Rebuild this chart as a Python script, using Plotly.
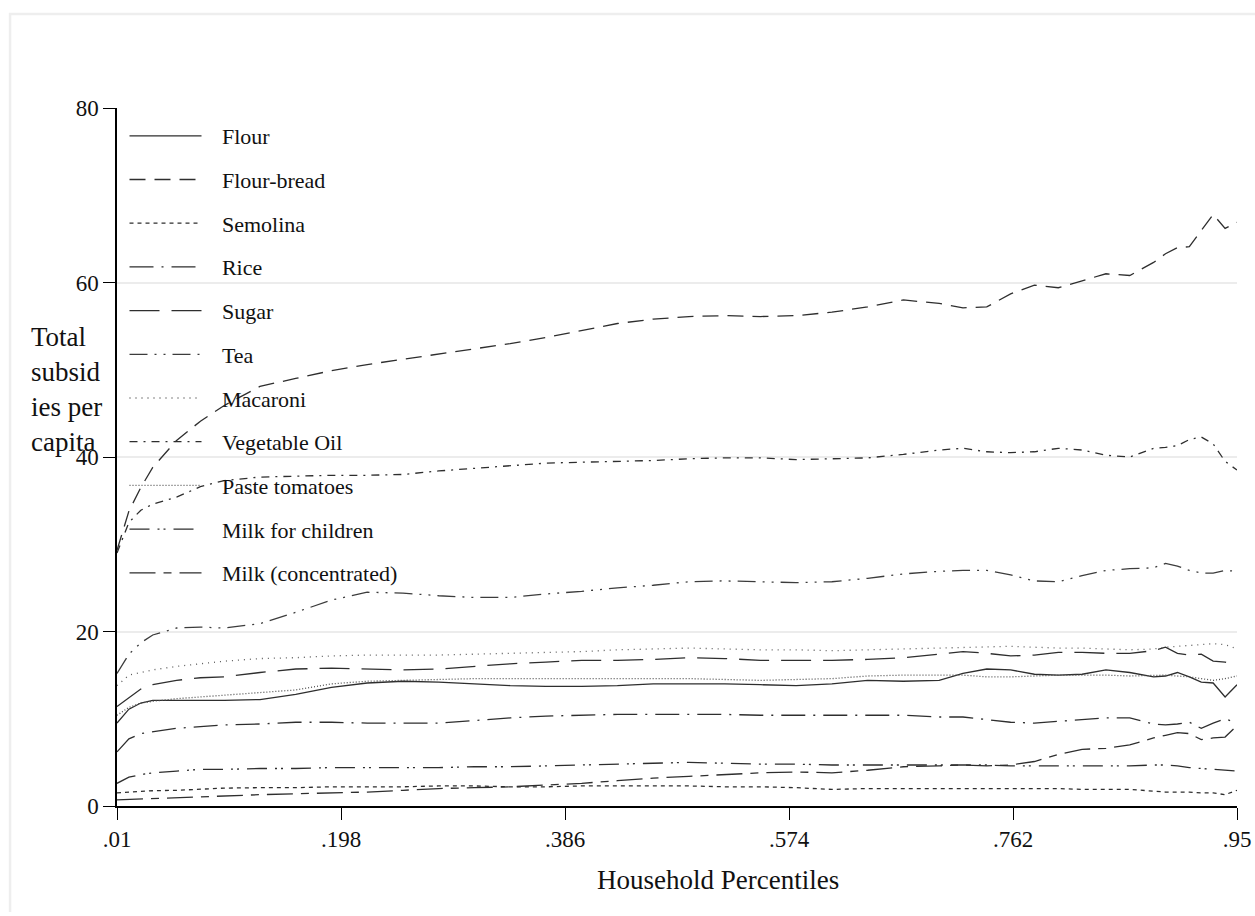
import plotly.graph_objects as go

# Household percentile positions (shared x grid)
percentiles = [.01, .02, .03, .04, .06, .08, .10, .13, .16, .19, .22, .25, .28, .31, .34,
               .37, .40, .43, .46, .49, .52, .55, .58, .61, .64, .67, .70, .72, .74, .76,
               .78, .80, .82, .84, .86, .88, .89, .90, .91, .92, .93, .94, .95]

flour = [9.5, 11.1, 11.8, 12.1, 12.1, 12.1, 12.1, 12.2, 12.8, 13.6, 14.1, 14.3, 14.2, 14.0, 13.8,
         13.7, 13.7, 13.8, 14.0, 14.0, 14.0, 13.9, 13.8, 14.0, 14.4, 14.3, 14.4, 15.2, 15.7, 15.6,
         15.1, 15.0, 15.1, 15.6, 15.3, 14.8, 14.9, 15.3, 14.8, 14.2, 14.1, 12.5, 13.9]
flour_bread = [29.3, 33.8, 36.5, 38.8, 41.9, 44.1, 45.9, 48.1, 49.0, 49.9, 50.6, 51.2, 51.8, 52.4, 53.0,
               53.7, 54.5, 55.3, 55.8, 56.1, 56.2, 56.1, 56.2, 56.6, 57.2, 58.0, 57.6, 57.1, 57.2, 58.7,
               59.7, 59.4, 60.2, 61.0, 60.8, 62.3, 63.3, 64.0, 64.1, 66.0, 67.8, 66.2, 66.9]
semolina = [1.5, 1.6, 1.7, 1.75, 1.8, 1.95, 2.05, 2.1, 2.1, 2.2, 2.2, 2.2, 2.3, 2.3, 2.2,
            2.2, 2.3, 2.3, 2.3, 2.3, 2.2, 2.2, 2.1, 1.9, 2.0, 2.0, 2.0, 2.0, 2.0, 2.0,
            2.0, 2.0, 1.9, 1.9, 1.9, 1.7, 1.6, 1.6, 1.6, 1.5, 1.5, 1.3, 1.8]
rice = [6.2, 7.7, 8.3, 8.5, 8.9, 9.1, 9.3, 9.4, 9.6, 9.6, 9.5, 9.5, 9.5, 9.8, 10.1,
        10.3, 10.4, 10.5, 10.5, 10.5, 10.5, 10.4, 10.4, 10.4, 10.4, 10.4, 10.2, 10.2, 9.9, 9.6,
        9.5, 9.7, 9.9, 10.1, 10.1, 9.4, 9.3, 9.4, 9.6, 8.9, 9.5, 10.0, 9.5]
sugar = [11.4, 12.4, 13.4, 13.9, 14.4, 14.7, 14.8, 15.3, 15.7, 15.8, 15.7, 15.6, 15.7, 16.0, 16.3,
         16.5, 16.7, 16.7, 16.8, 17.0, 16.9, 16.7, 16.7, 16.7, 16.8, 17.0, 17.4, 17.7, 17.5, 17.2,
         17.3, 17.6, 17.6, 17.5, 17.5, 17.8, 18.2, 17.5, 17.3, 17.4, 16.6, 16.5, 16.0]
tea = [15.2, 17.4, 18.7, 19.6, 20.4, 20.5, 20.4, 20.9, 22.2, 23.6, 24.5, 24.4, 24.1, 23.9, 23.9,
       24.3, 24.6, 25.0, 25.3, 25.7, 25.8, 25.7, 25.6, 25.7, 26.1, 26.6, 26.9, 27.0, 27.0, 26.5,
       25.8, 25.7, 26.4, 27.0, 27.2, 27.3, 27.8, 27.5, 27.0, 26.7, 26.7, 27.0, 26.9]
macaroni = [13.8, 15.0, 15.3, 15.6, 16.0, 16.3, 16.6, 16.9, 17.0, 17.2, 17.3, 17.3, 17.3, 17.4, 17.5,
            17.6, 17.7, 17.9, 18.0, 18.1, 18.0, 17.9, 17.9, 17.8, 17.9, 18.0, 18.1, 18.1, 18.2, 18.3,
            18.2, 18.1, 18.1, 18.0, 17.9, 18.0, 18.2, 18.3, 18.4, 18.5, 18.6, 18.5, 18.0]
vegetable_oil = [29.0, 32.5, 33.9, 34.6, 35.4, 36.6, 37.3, 37.7, 37.8, 37.9, 37.9, 38.0, 38.4, 38.7, 39.0,
                 39.3, 39.4, 39.5, 39.6, 39.8, 39.9, 39.9, 39.7, 39.8, 39.9, 40.3, 40.8, 41.0, 40.6, 40.5,
                 40.6, 41.0, 40.8, 40.2, 40.0, 41.0, 41.1, 41.3, 42.0, 42.3, 41.5, 39.5, 38.5]
paste_tomatoes = [10.4, 11.3, 11.8, 12.0, 12.3, 12.5, 12.7, 13.0, 13.3, 14.0, 14.3, 14.4, 14.5, 14.6, 14.6,
                  14.6, 14.6, 14.6, 14.6, 14.6, 14.5, 14.4, 14.5, 14.6, 14.9, 15.0, 15.0, 15.0, 14.8, 14.8,
                  14.9, 15.0, 15.0, 15.0, 14.9, 15.0, 15.0, 14.9, 14.8, 14.6, 14.4, 14.6, 14.9]
milk_children = [2.6, 3.3, 3.6, 3.8, 4.0, 4.2, 4.2, 4.3, 4.3, 4.4, 4.4, 4.4, 4.4, 4.5, 4.5,
                 4.6, 4.7, 4.8, 4.9, 5.0, 4.9, 4.8, 4.8, 4.7, 4.7, 4.7, 4.7, 4.7, 4.7, 4.6,
                 4.6, 4.6, 4.6, 4.6, 4.6, 4.7, 4.7, 4.6, 4.4, 4.3, 4.2, 4.1, 4.0]
milk_concentrated = [0.7, 0.75, 0.8, 0.85, 1.0, 1.1, 1.2, 1.3, 1.4, 1.5, 1.6, 1.8, 2.0, 2.1, 2.2,
                     2.4, 2.6, 2.9, 3.2, 3.4, 3.6, 3.8, 3.9, 3.8, 4.1, 4.5, 4.6, 4.7, 4.6, 4.7,
                     5.1, 5.9, 6.5, 6.6, 7.0, 7.8, 8.1, 8.4, 8.3, 7.6, 7.8, 7.9, 9.2]

series_names = ["Flour", "Flour-bread", "Semolina", "Rice", "Sugar", "Tea", "Macaroni",
                "Vegetable Oil", "Paste tomatoes", "Milk for children", "Milk (concentrated)"]
series_values = [flour, flour_bread, semolina, rice, sugar, tea, macaroni,
                 vegetable_oil, paste_tomatoes, milk_children, milk_concentrated]

x_ticks = [.01, .198, .386, .574, .762, .95]
x_tick_labels = [".01", ".198", ".386", ".574", ".762", ".95"]
y_ticks = [0, 20, 40, 60, 80]

dash_styles = ["solid", "16px,9px", "4px,4px", "24px,8px,2px,8px", "30px,12px",
               "18px,7px,2px,7px,2px,7px", "1px,5px", "8px,6px,2px,6px", "1px,2px",
               "20px,8px,2px,4px,2px,8px", "26px,8px,8px,8px"]
line_colors = ["#2e2e2e", "#2e2e2e", "#2e2e2e", "#2e2e2e", "#2e2e2e", "#3c3c3c",
               "#5a5a5a", "#2e2e2e", "#505050", "#2e2e2e", "#2e2e2e"]

FONT = "Liberation Serif"
PAD = "\u00a0\u00a0\u2009"

fig = go.Figure()
for i, (name, vals) in enumerate(zip(series_names, series_values)):
    fig.add_trace(go.Scatter(
        x=percentiles, y=vals, mode="lines", name=PAD + name, legendgroup=name,
        line=dict(color=line_colors[i], width=1.3, dash=dash_styles[i]),
    ))

fig.update_layout(
    width=1255, height=912,
    margin=dict(l=117, r=18, t=108, b=106, autoexpand=False),
    paper_bgcolor="white", plot_bgcolor="white",
    font=dict(family=FONT, size=22, color="#111111"),
    showlegend=True,
    legend=dict(x=0.0067, y=0.99, xanchor="left", yanchor="top",
                bgcolor="rgba(0,0,0,0)", borderwidth=0,
                font=dict(family=FONT, size=22, color="#111111"),
                itemwidth=72, tracegroupgap=12.1),
    xaxis=dict(range=[0.01, 0.95], tickmode="array", tickvals=x_ticks, ticktext=x_tick_labels,
               automargin=False, ticklabeloverflow="allow",
               showgrid=False, zeroline=False, showline=True, linecolor="black", linewidth=1.5,
               ticks="outside", ticklen=12, tickcolor="black", tickwidth=1,
               tickfont=dict(family=FONT, size=23, color="#111111")),
    yaxis=dict(range=[0, 80], tickmode="array", tickvals=y_ticks, automargin=False,
               showgrid=True, gridcolor="#ececec", gridwidth=1.5, zeroline=False,
               showline=True, linecolor="black", linewidth=1.5,
               ticks="outside", ticklen=12, tickcolor="black", tickwidth=1,
               tickfont=dict(family=FONT, size=23, color="#111111")),
    annotations=[
        dict(text="Total<br>subsid<br>ies per<br>capita", xref="paper", yref="paper",
             x=-0.0786, y=0.596, xanchor="left", yanchor="middle", align="left",
             showarrow=False, font=dict(family=FONT, size=27, color="#111111")),
        dict(text="Household Percentiles", xref="paper", yref="paper",
             x=0.5366, y=-0.106, xanchor="center", yanchor="middle",
             showarrow=False, font=dict(family=FONT, size=27, color="#111111")),
    ],
    shapes=[dict(type="rect", xref="paper", yref="paper", x0=-0.0955, x1=1.03, y0=-0.2, y1=1.1347,
                 line=dict(color="#eeeeee", width=2.5), fillcolor="rgba(0,0,0,0)", layer="below")],
)

fig.write_html("out.html", config={"displayModeBar": False},
               post_script="document.body.style.margin='0px';document.body.style.overflow='hidden';")
